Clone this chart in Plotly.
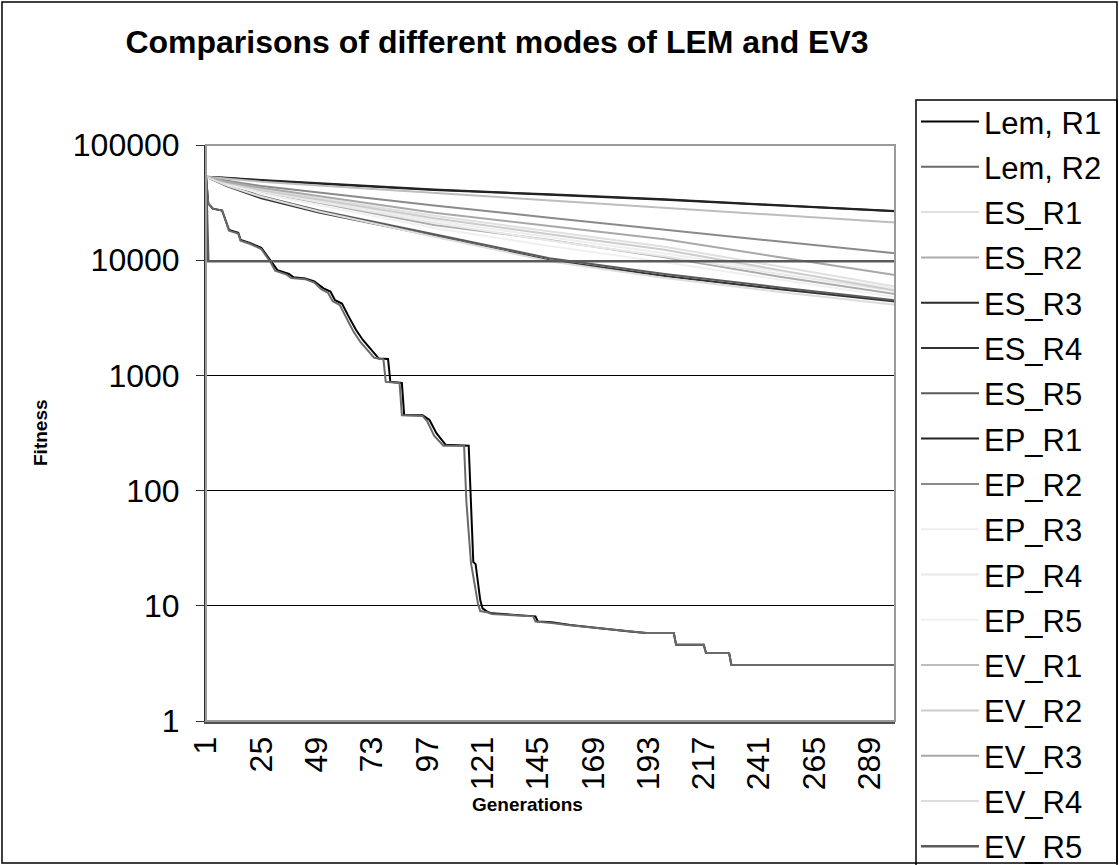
import plotly.graph_objects as go

# ---- data (generation, fitness) ----
lem_r1 = [(1, 53000), (2, 31000), (4, 28000), (8, 27000), (11, 18300), (15, 17300), (16, 15000),
          (20, 14100), (25, 12800), (29, 9800), (32, 8200), (37, 7600), (39, 7100), (44, 6950),
          (48, 6550), (52, 5700), (55, 5350), (57, 4500), (60, 4200), (63, 3220), (66, 2500),
          (69, 2040), (72, 1720), (75, 1460), (76, 1400), (80, 1390), (81, 880), (86, 860),
          (87, 453), (95, 450), (98, 410), (101, 315), (105, 250), (115, 245), (116, 75),
          (117, 24), (118, 23), (120, 11.2), (121, 9.5), (123, 8.9), (125, 8.6), (133, 8.4),
          (144, 8.1), (145, 7.3), (151, 7.2), (159, 6.8), (170, 6.4), (184, 6.0), (192, 5.8),
          (204, 5.8), (205, 4.6), (217, 4.6), (218, 3.9), (228, 3.9), (229, 3.06), (300, 3.06)]
lem_r2 = [(1, 53000), (2, 31000), (4, 28000), (8, 27000), (11, 18000), (15, 17000), (16, 14800),
          (20, 13900), (25, 12500), (29, 9600), (31, 8100), (36, 7500), (38, 7000), (44, 6850),
          (48, 6400), (51, 5600), (54, 5200), (56, 4400), (59, 4100), (62, 3100), (65, 2400),
          (68, 1950), (71, 1650), (74, 1420), (78, 1380), (79, 880), (85, 860), (86, 450),
          (95, 445), (97, 400), (100, 300), (104, 245), (113, 245), (114, 80), (116, 23.5),
          (119, 10.5), (120, 9.0), (123, 8.8), (125, 8.5), (133, 8.3), (143, 8.1), (144, 7.3),
          (151, 7.1), (158, 6.8), (170, 6.4), (183, 6.0), (192, 5.8), (204, 5.8), (205, 4.6),
          (217, 4.6), (218, 3.9), (228, 3.9), (229, 3.06), (300, 3.06)]

gens = [1, 10, 25, 50, 100, 150, 200, 250, 300]
es_r1 = [53000, 47500, 41500, 34500, 24300, 17800, 13100, 8800, 5900]
es_r2 = [53000, 46000, 39000, 31500, 20200, 15000, 10600, 7200, 5100]
es_r3 = [53000, 52000, 49600, 46500, 41000, 37300, 33800, 30000, 26800]
es_r4 = [53000, 44000, 34500, 26000, 16200, 10000, 7300, 5600, 4380]
es_r5 = [53000, 45000, 36000, 27000, 16800, 10400, 7600, 5800, 4500]
ep_r1 = [53000, 51800, 49300, 46000, 40700, 37000, 33500, 29800, 26600]
ep_r2 = [53000, 49000, 44000, 38500, 29800, 23400, 18300, 14500, 11500]
ep_r3 = [53000, 47000, 40000, 33000, 22000, 15800, 11500, 8000, 5700]
ep_r4 = [53000, 46500, 39500, 32000, 21000, 14800, 10800, 7600, 5400]
ep_r5 = [53000, 45500, 38000, 30000, 19000, 13300, 9600, 6800, 4800]
ev_r1 = [53000, 51000, 48000, 44500, 38300, 33200, 28500, 24500, 21200]
ev_r2 = [53000, 47000, 40500, 33500, 23100, 16800, 12300, 8200, 5450]
ev_r3 = [53000, 48000, 42500, 36000, 25800, 19800, 15200, 10600, 7450]
ev_r4 = [53000, 44500, 35500, 26500, 16000, 9800, 7000, 5300, 4100]
ev_r5_gens = [1, 2, 300]
ev_r5 = [53000, 9800, 9800]

x_tick_vals = [1, 25, 49, 73, 97, 121, 145, 169, 193, 217, 241, 265, 289]
y_tick_vals = [1, 10, 100, 1000, 10000, 100000]
y_tick_text = ["1", "10", "100", "1000", "10000", "100000"]

# ---- figure ----
FONT = "Liberation Sans, Arial, sans-serif"
fig = go.Figure()

def add(name, xs, ys, color, legend, width=2):
    fig.add_trace(go.Scatter(x=xs, y=ys, name=name, mode="lines",
                             line=dict(color=color, width=width),
                             legendgroup=name, legend=legend))

add("Lem, R1", [p[0] for p in lem_r1], [p[1] for p in lem_r1], "#000000", "legend")
add("Lem, R2", [p[0] for p in lem_r2], [p[1] for p in lem_r2], "#6a6a6a", "legend")
add("ES_R1", gens, es_r1, "#e0e0e0", "legend")
add("ES_R2", gens, es_r2, "#ababab", "legend")
add("ES_R3", gens, es_r3, "#2a2a2a", "legend")
add("ES_R4", gens, es_r4, "#333333", "legend")
add("ES_R5", gens, es_r5, "#5a5a5a", "legend")
add("EP_R1", gens, ep_r1, "#222222", "legend")
add("EP_R2", gens, ep_r2, "#8a8a8a", "legend2")
add("EP_R3", gens, ep_r3, "#eeeeee", "legend2")
add("EP_R4", gens, ep_r4, "#e8e8e8", "legend2")
add("EP_R5", gens, ep_r5, "#f0f0f0", "legend2")
add("EV_R1", gens, ev_r1, "#bdbdbd", "legend2")
add("EV_R2", gens, ev_r2, "#cccccc", "legend2")
add("EV_R3", gens, ev_r3, "#a8a8a8", "legend2")
add("EV_R4", gens, ev_r4, "#dddddd", "legend2")
add("EV_R5", ev_r5_gens, ev_r5, "#5a5a5a", "legend2", 2.5)

W, H = 1119, 865
L, R, T, B = 206, 224, 145, 144
pw, ph = W - L - R, H - T - B

def px(x):
    return (x - L) / pw

def py(y):
    return (H - B - y) / ph

LEG_FS = 31
LEG_GAP = 2
STEP = LEG_FS * 1.3 + 3 + LEG_GAP
FIRST = 124
OFF = (LEG_FS * 1.3 + 3) / 2 + 7.5

leg_common = dict(xanchor="left", yanchor="top", borderwidth=0, bgcolor="rgba(0,0,0,0)",
                  font=dict(size=LEG_FS, family=FONT, color="black"),
                  traceorder="grouped", tracegroupgap=LEG_GAP, itemwidth=58)

fig.update_layout(
    width=W, height=H,
    margin=dict(l=L, r=R, t=T, b=B, autoexpand=False),
    paper_bgcolor="white", plot_bgcolor="white",
    font=dict(family=FONT, color="black"),
    title=dict(text="<b>Comparisons of different modes of LEM and EV3</b>",
               x=497 / W, xref="container", xanchor="center",
               y=1 - 42 / H, yref="container", yanchor="middle",
               font=dict(size=32, family=FONT, color="black")),
    showlegend=True,
    legend=dict(x=px(916), y=py(FIRST - OFF), **leg_common),
    legend2=dict(x=px(916), y=py(FIRST + 8 * STEP - OFF), **leg_common),
    xaxis=dict(range=[1, 300], tickmode="array", tickvals=x_tick_vals,
               tickangle=-90, tickfont=dict(size=32, family=FONT),
               showgrid=False, zeroline=False, showline=True,
               linecolor="#505050", linewidth=3, ticks=""),
    yaxis=dict(type="log", range=[0, 5], tickmode="array", tickvals=y_tick_vals,
               ticktext=y_tick_text, tickfont=dict(size=32, family=FONT),
               showgrid=True, gridcolor="black", gridwidth=1, zeroline=False,
               showline=True, linecolor="#303030", linewidth=2,
               ticks="outside", ticklen=8, tickcolor="#303030", ticklabelstandoff=10),
    shapes=[
        dict(type="rect", xref="paper", yref="paper", x0=0, x1=1, y0=0, y1=1,
             line=dict(color="#9a9a9a", width=2), layer="above"),
        dict(type="rect", xref="paper", yref="paper",
             x0=px(916), x1=px(1117), y0=py(875), y1=py(100),
             line=dict(color="black", width=1.5), layer="above"),
        dict(type="rect", xref="paper", yref="paper",
             x0=px(2), x1=px(1117), y0=py(863), y1=py(2),
             line=dict(color="black", width=1.5), layer="above"),
    ],
    annotations=[
        dict(text="<b>Fitness</b>", xref="paper", yref="paper", x=px(40), y=0.5,
             xanchor="center", yanchor="middle",
             textangle=-90, showarrow=False, font=dict(size=19, family=FONT)),
        dict(text="<b>Generations</b>", xref="paper", yref="paper", x=px(527), y=py(804),
             xanchor="center", yanchor="middle",
             showarrow=False, font=dict(size=19, family=FONT)),
    ],
)
fig.update_xaxes(layer="above traces")
fig.update_yaxes(layer="above traces")

fig.write_html("out.html")
